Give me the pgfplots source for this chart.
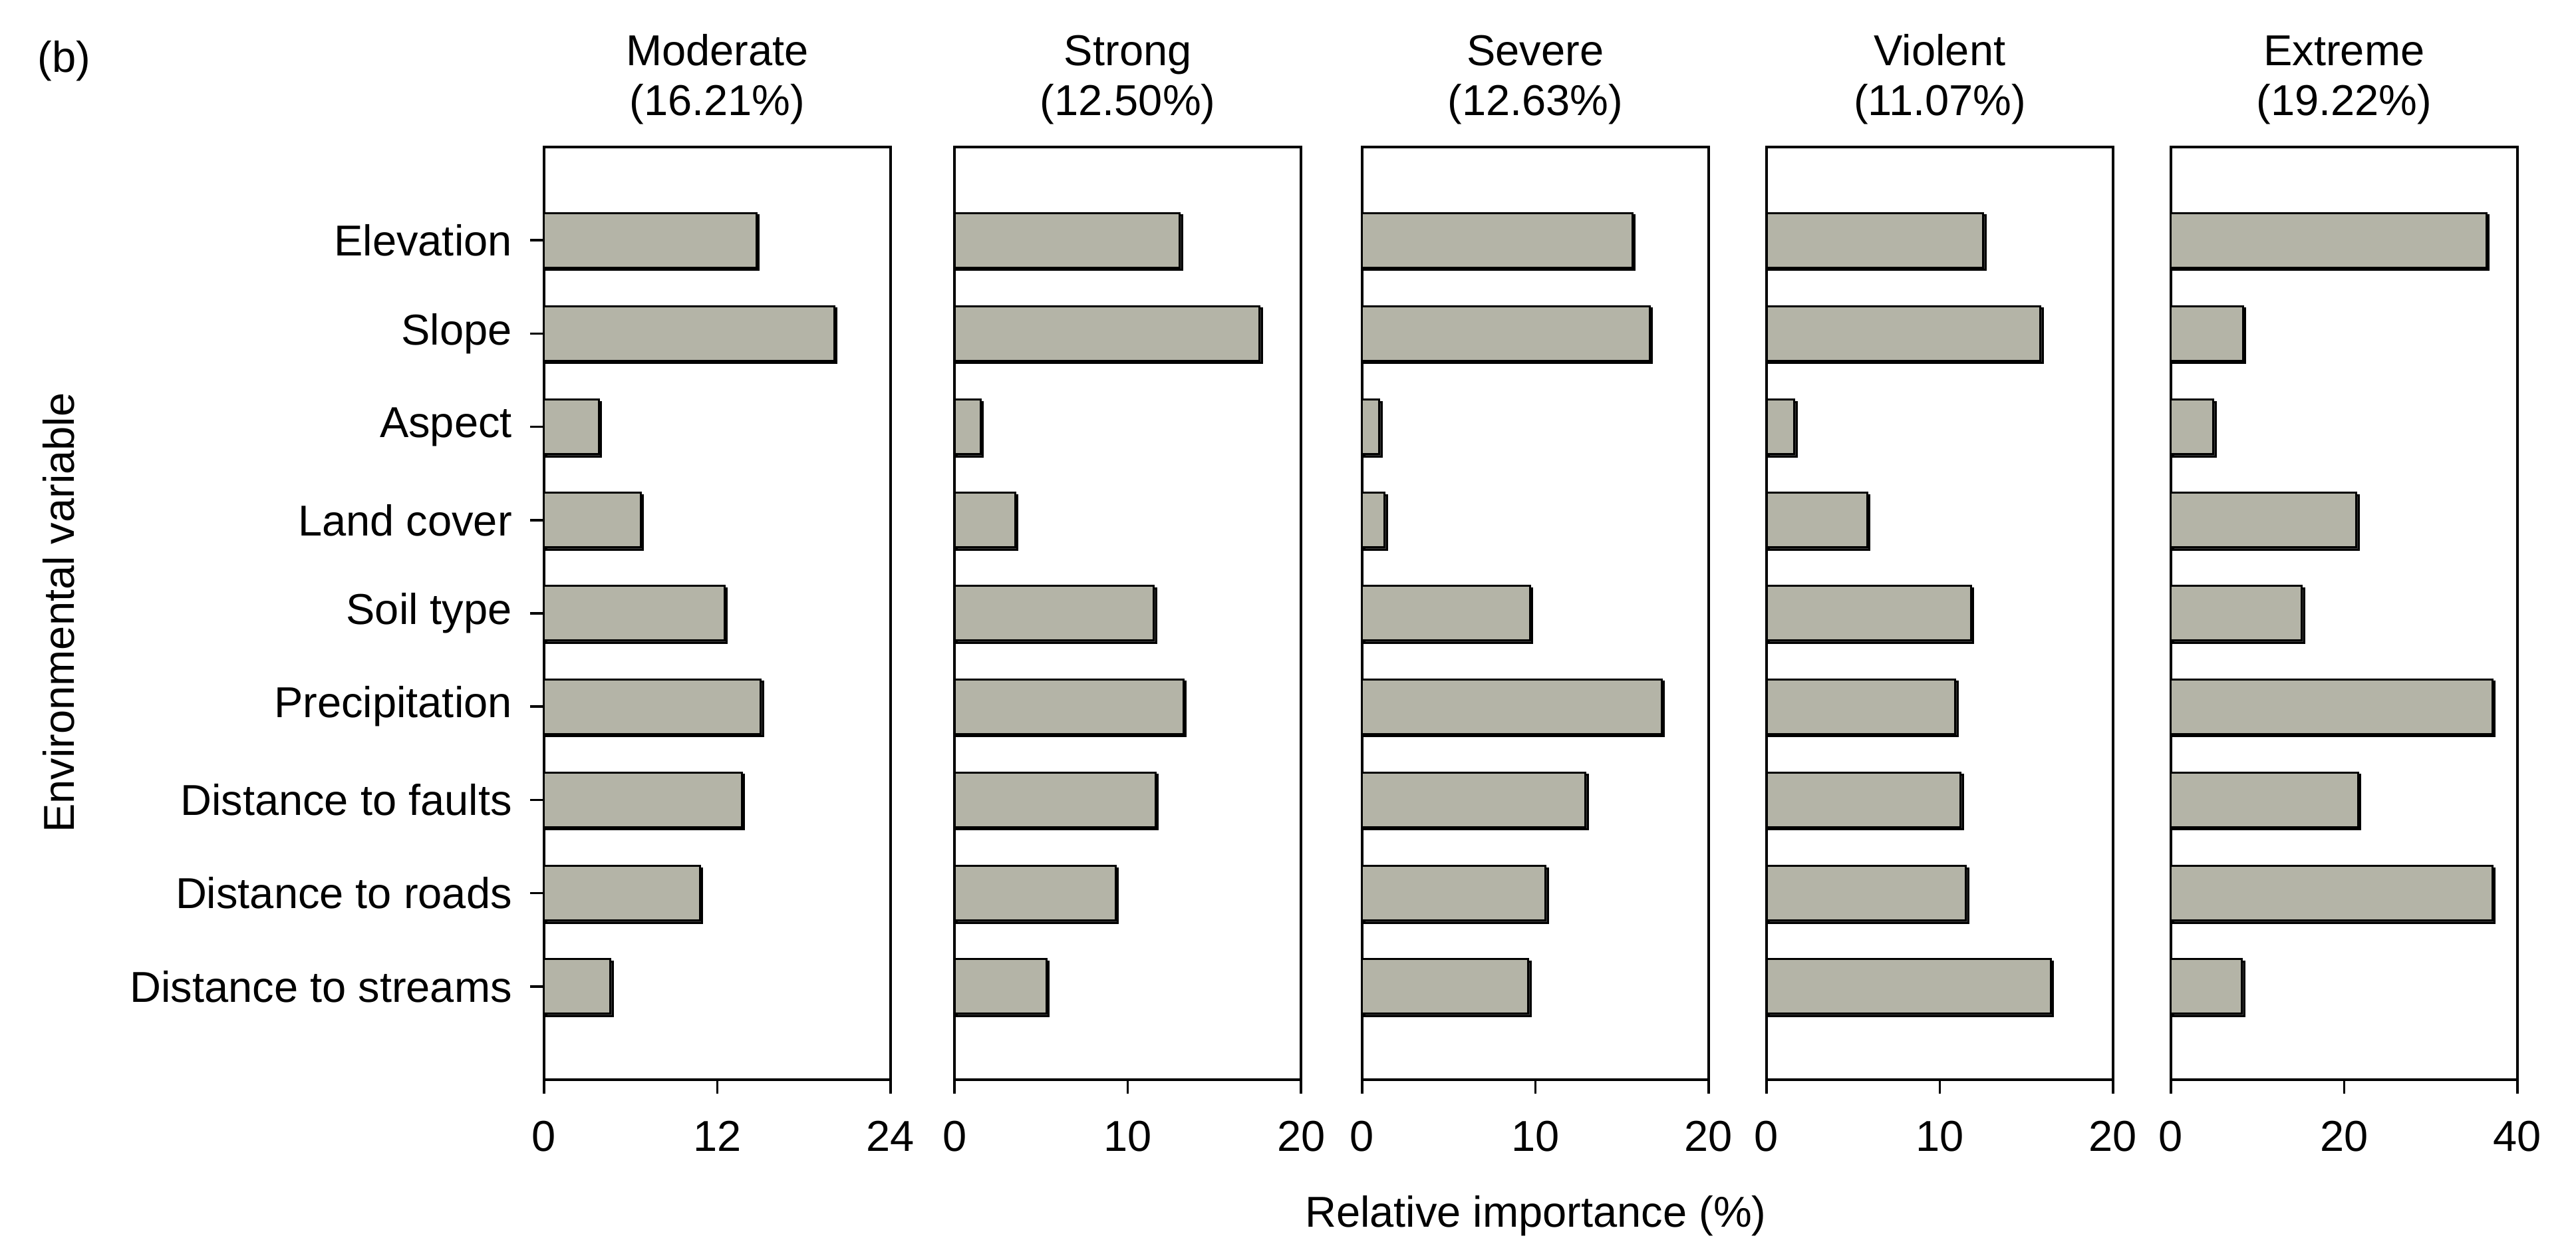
\documentclass[border=0pt]{standalone}
\usepackage{fontspec}
\setmainfont{Liberation Sans}
\usepackage{pgfplots}
\usepackage{pgfplotstable}
\pgfplotsset{compat=1.18}

\definecolor{barfill}{RGB}{180,180,167}

% relative importance (%) per hazard class, rows top to bottom
\pgfplotstableread{
pos moderate strong severe violent extreme
1 14.7 13.0 15.6 12.5 36.4
2 20.1 17.6 16.6 15.8 8.3
3 3.8 1.5 1.0 1.6 4.9
4 6.7 3.5 1.3 5.8 21.4
5 12.5 11.5 9.7 11.8 15.1
6 15.0 13.2 17.3 10.9 37.1
7 13.7 11.6 12.9 11.2 21.6
8 10.8 9.3 10.6 11.5 37.1
9 4.6 5.3 9.6 16.4 8.2
}\importance

\pgfplotsset{
  panel/.style={
    scale only axis,
    width=104.2pt, height=280.4pt,
    anchor=south west,
    xbar, bar width=16.4pt,
    xmin=0, ymin=0, ymax=10, y dir=reverse,
    ytick=\empty,
    tick align=outside, tick pos=left,
    major tick length=4.2pt,
    axis line style={line width=0.7pt},
    every tick/.style={black, line width=0.7pt},
    title style={align=center, yshift=-2.7pt, font=\fontsize{13}{15}\selectfont},
    xticklabel style={yshift=-4.6pt},
    /pgf/number format/assume math mode=true,
    clip=false,
  },
  barstyle/.style={
    fill=barfill, draw=black, line width=0.6pt,
    preaction={fill=black!75, transform canvas={shift={(0.7pt,-0.7pt)}}},
  },
}

\begin{document}
\begin{tikzpicture}[font=\fontsize{13}{15}\selectfont]
\path[use as bounding box] (-163.6pt,-51.8pt) rectangle (611pt,324.6pt);

\begin{axis}[panel, at={(0pt,0pt)},
  xmax=24, xtick={0,12,24},
  ytick={1,...,9},
  yticklabels={Elevation,Slope,Aspect,Land cover,Soil type,Precipitation,Distance to faults,Distance to roads,Distance to streams},
  yticklabel style={xshift=-1.9pt},
  title={Moderate\\(16.21\%)}]
\addplot[barstyle] table[x=moderate, y=pos]{\importance};
\end{axis}

\begin{axis}[panel, at={(123.44pt,0pt)},
  xmax=20, xtick={0,10,20},
  title={Strong\\(12.50\%)}]
\addplot[barstyle] table[x=strong, y=pos]{\importance};
\end{axis}

\begin{axis}[panel, at={(245.96pt,0pt)},
  xmax=20, xtick={0,10,20},
  title={Severe\\(12.63\%)}]
\addplot[barstyle] table[x=severe, y=pos]{\importance};
\end{axis}

\begin{axis}[panel, at={(367.6pt,0pt)},
  xmax=20, xtick={0,10,20},
  title={Violent\\(11.07\%)}]
\addplot[barstyle] table[x=violent, y=pos]{\importance};
\end{axis}

\begin{axis}[panel, at={(489.18pt,0pt)},
  xmax=40, xtick={0,20,40},
  title={Extreme\\(19.22\%)}]
\addplot[barstyle] table[x=extreme, y=pos]{\importance};
\end{axis}

\node[anchor=west, inner sep=0pt] at (-152.4pt,306.2pt) {(b)};
\node[rotate=90] at (-146pt,140.4pt) {Environmental variable};
\node[anchor=base] at (298.2pt,-44.4pt) {Relative importance (\%)};
\end{tikzpicture}
\end{document}
